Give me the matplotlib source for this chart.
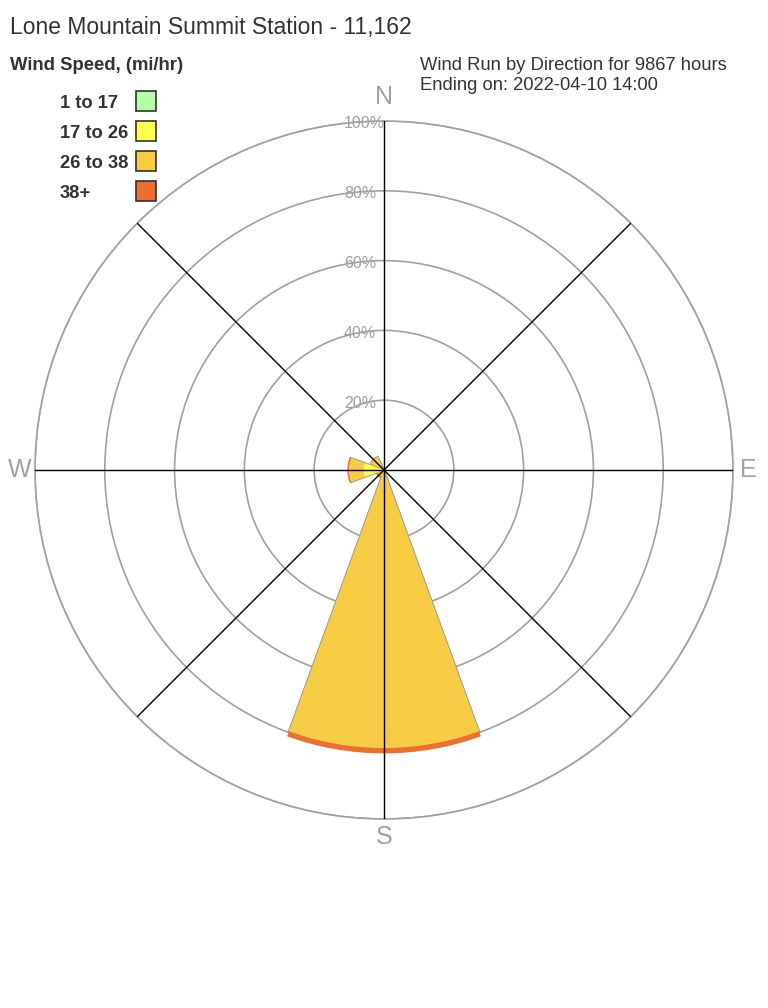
import numpy as np
import matplotlib
matplotlib.use('Agg')
import matplotlib.pyplot as plt
from matplotlib.patches import Rectangle

plt.rcParams['font.family'] = ['Liberation Sans', 'DejaVu Sans']

# data (percent of total wind run per direction and speed bin)
directions = ['N', 'NE', 'E', 'SE', 'S', 'SW', 'W', 'NW']
angles_deg = [0, 45, 90, 135, 180, 225, 270, 315]
speed_bins = ['1 to 17', '17 to 26', '26 to 38', '38+']
bin_colors = ['#b3ffa6', '#ffff4d', '#f7cc45', '#ee6e2d']

run_1_17 = [0.0, 0.0, 0.0, 0.0, 0.3, 0.1, 0.4, 0.1]
run_17_26 = [0.0, 0.0, 0.0, 0.0, 0.4, 0.4, 5.4, 0.9]
run_26_38 = [0.0, 0.0, 0.0, 0.0, 79.0, 1.5, 4.3, 3.2]
run_38p = [0.0, 0.0, 0.0, 0.0, 1.5, 0.5, 0.4, 0.0]

ring_vals = [20, 40, 60, 80, 100]
ring_labels = ['20%', '40%', '60%', '80%', '100%']
compass = ['N', 'E', 'S', 'W']
compass_deg = [0, 90, 180, 270]

title = 'Lone Mountain Summit Station - 11,162'
info_1 = 'Wind Run by Direction for 9867 hours'
info_2 = 'Ending on: 2022-04-10 14:00'

W, H = 768, 1008
fig = plt.figure(figsize=(7.68, 10.08), dpi=100)


def fx(px):
    return px / W


def fy(py):
    return 1 - py / H


cx, cy, R = 384, 470, 349
ax = fig.add_axes([fx(cx - R), fy(cy + R), 2 * R / W, 2 * R / H], projection='polar')
ax.set_theta_zero_location('N')
ax.set_theta_direction(-1)
ax.set_ylim(0, 100)

theta = np.radians(angles_deg)
width = np.radians(40)
segments = [np.array(v) for v in [run_1_17, run_17_26, run_26_38, run_38p]]

# grey outline of the wedge body (everything below the 38+ band)
body = segments[0] + segments[1] + segments[2]
keep = body > 0
ax.bar(theta[keep], body[keep], width=width, facecolor='none',
       edgecolor='#999999', linewidth=1.4, zorder=1.9)

bottom = np.zeros(len(directions))
for vals, col in zip(segments, bin_colors):
    keep = vals > 0
    ax.bar(theta[keep], vals[keep], width=width, bottom=bottom[keep], color=col,
           linewidth=0, zorder=2)
    bottom += vals

# rings under the wedges, spokes on top
ax.set_axisbelow(True)
ax.set_yticks(ring_vals)
ax.set_yticklabels([])
ax.yaxis.grid(True, color='#a0a0a0', linewidth=1.2)
ax.set_xticks([])
ax.xaxis.grid(False)
ax.spines['polar'].set_color('#a0a0a0')
ax.spines['polar'].set_linewidth(1.2)
for t in np.radians(np.arange(0, 360, 45)):
    ax.plot([t, t], [0, 100], color='black', linewidth=1, zorder=3)

for r, lab in zip(ring_vals, ring_labels):
    ax.annotate(lab, xy=(0, r), xytext=(-40, -3), textcoords='offset pixels',
                ha='left', va='center', color='#a0a0a0', fontsize=11.5, zorder=4)

label_r = {'N': 106.9, 'E': 104.3, 'S': 105.2, 'W': 104.3}
for lab, d in zip(compass, compass_deg):
    ax.text(np.radians(d), label_r[lab], lab, ha='center', va='center',
            fontsize=18, color='#a0a0a0')

# header texts
fig.text(fx(10), fy(34), title, fontsize=16.5, color='#333333', va='baseline')
fig.text(fx(10), fy(70), 'Wind Speed, (mi/hr)', fontsize=13.3, weight='bold',
         color='#333333', va='baseline')
fig.text(fx(420), fy(69.5), info_1, fontsize=13.2, color='#333333', va='baseline')
fig.text(fx(420), fy(89.5), info_2, fontsize=13.2, color='#333333', va='baseline')

# legend
for i, (lab, col) in enumerate(zip(speed_bins, bin_colors)):
    yc = 101 + 30 * i
    fig.add_artist(Rectangle((fx(136), fy(yc + 10)), 20 / W, 20 / H,
                             transform=fig.transFigure, facecolor=col,
                             edgecolor='#333333', linewidth=1.2))
    fig.text(fx(60), fy(yc + 6.5), lab, fontsize=13.2, weight='bold',
             color='#333333', va='baseline')

fig.savefig('out.png', dpi=100)
